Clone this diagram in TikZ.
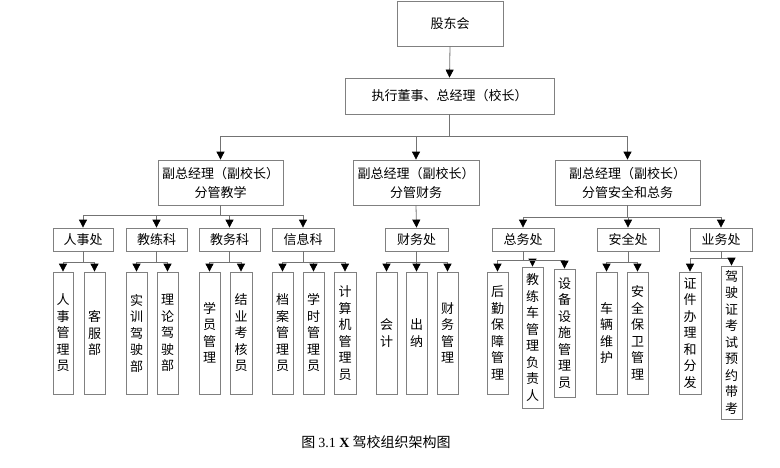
\documentclass[tikz,border=0pt]{standalone}
\usepackage{fontspec}
\setmainfont{Noto Sans CJK SC}
\newfontfamily\lat{Liberation Serif}
\usetikzlibrary{arrows.meta}
\definecolor{bordc}{RGB}{128,128,128}
\definecolor{linec}{RGB}{115,115,115}
\tikzset{
 bx/.style={draw=bordc, fill=white, inner sep=0pt, align=center, font=\fontsize{13}{19}\selectfont, line width=0.8pt},
 vbx/.style={bx, font=\fontsize{13}{16.5}\selectfont},
 conn/.style={draw=linec, line width=0.8pt, -{Triangle[width=8pt,length=8pt,color=black]}},
}
\newcommand\bx[7][bx]{\node[#1, minimum width={(#5-#3)*1pt}, minimum height={(#6-#4)*1pt}] (#2) at ({(#3+#5)/2},{(#4+#6)/2}) {#7};}
\begin{document}
\begin{tikzpicture}[x=1pt,y=-1pt]
\useasboundingbox (0,0) rectangle (780,467);
% level 0/1
\bx{gd}{397}{1}{503}{46}{股东会}
\bx{zj}{345}{78}{554}{114}{执行董事、总经理（校长）}
% level 2
\bx{v1}{158}{160}{283}{205}{副总经理（副校长）\\分管教学}
\bx{v2}{353}{160}{479}{205}{副总经理（副校长）\\分管财务}
\bx{v3}{555}{160}{700}{205}{副总经理（副校长）\\分管安全和总务}
% level 3
\bx{rs}{53}{228}{113}{251}{人事处}
\bx{jl}{126}{228}{187}{251}{教练科}
\bx{jw}{199}{228}{260}{251}{教务科}
\bx{xx}{272}{228}{334}{251}{信息科}
\bx{cw}{385}{228}{448}{251}{财务处}
\bx{zw}{492}{228}{554}{251}{总务处}
\bx{aq}{597}{228}{659}{251}{安全处}
\bx{yw}{690}{228}{752}{251}{业务处}
% level 4
\bx[vbx]{a1}{53}{272}{73}{394}{人\\事\\管\\理\\员}
\bx[vbx]{a2}{84}{272}{105}{394}{客\\服\\部}
\bx[vbx]{b1}{126}{272}{147}{394}{实\\训\\驾\\驶\\部}
\bx[vbx]{b2}{157}{272}{178}{394}{理\\论\\驾\\驶\\部}
\bx[vbx]{c1}{199}{272}{220}{394}{学\\员\\管\\理}
\bx[vbx]{c2}{230}{272}{252}{394}{结\\业\\考\\核\\员}
\bx[vbx]{d1}{272}{272}{293}{394}{档\\案\\管\\理\\员}
\bx[vbx]{d2}{303}{272}{324}{394}{学\\时\\管\\理\\员}
\bx[vbx]{d3}{334}{272}{356}{394}{计\\算\\机\\管\\理\\员}
\bx[vbx]{e1}{376}{272}{397}{394}{会\\计}
\bx[vbx]{e2}{406}{272}{427}{394}{出\\纳}
\bx[vbx]{e3}{437}{272}{458}{394}{财\\务\\管\\理}
\bx[vbx]{f1}{487}{272}{508}{394}{后\\勤\\保\\障\\管\\理}
\bx[vbx]{f2}{522}{267}{543}{408}{教\\练\\车\\管\\理\\负\\责\\人}
\bx[vbx]{f3}{554}{269}{575}{397}{设\\备\\设\\施\\管\\理\\员}
\bx[vbx]{g1}{596}{272}{617}{394}{车\\辆\\维\\护}
\bx[vbx]{g2}{627}{272}{648}{394}{安\\全\\保\\卫\\管\\理}
\bx[vbx]{h1}{679}{272}{701}{394}{证\\件\\办\\理\\和\\分\\发}
\bx[vbx]{h2}{721}{266}{742}{419}{驾\\驶\\证\\考\\试\\预\\约\\带\\考}
% connectors
\draw[conn] (gd.south) -- (zj.north);
\foreach \c in {v1,v2,v3} \draw[conn] (zj.south) -- (zj.south |- 0,136) -| (\c.north);
\foreach \c in {rs,jl,jw,xx} \draw[conn] (v1.south) -- (v1.south |- 0,215) -| (\c.north);
\draw[conn] (v2.south) -- (cw.north);
\foreach \c in {zw,aq,yw} \draw[conn] (v3.south) -- (v3.south |- 0,217) -| (\c.north);
\foreach \c in {a1,a2} \draw[conn] (rs.south) -- (rs.south |- 0,262) -| (\c.north);
\foreach \c in {b1,b2} \draw[conn] (jl.south) -- (jl.south |- 0,262) -| (\c.north);
\foreach \c in {c1,c2} \draw[conn] (jw.south) -- (jw.south |- 0,262) -| (\c.north);
\foreach \c in {d1,d2,d3} \draw[conn] (xx.south) -- (xx.south |- 0,262) -| (\c.north);
\foreach \c in {e1,e2,e3} \draw[conn] (cw.south) -- (cw.south |- 0,262) -| (\c.north);
\foreach \c in {f1,f2,f3} \draw[conn] (zw.south) -- (zw.south |- 0,260) -| (\c.north);
\foreach \c in {g1,g2} \draw[conn] (aq.south) -- (aq.south |- 0,262) -| (\c.north);
\foreach \c in {h1,h2} \draw[conn] (yw.south) -- (yw.south |- 0,258) -| (\c.north);
% caption
\node[font=\fontsize{14}{14}\selectfont] (cap) at (376,442) {图 {\lat 3.1 \textbf{X}} 驾校组织架构图};
\end{tikzpicture}
\end{document}
